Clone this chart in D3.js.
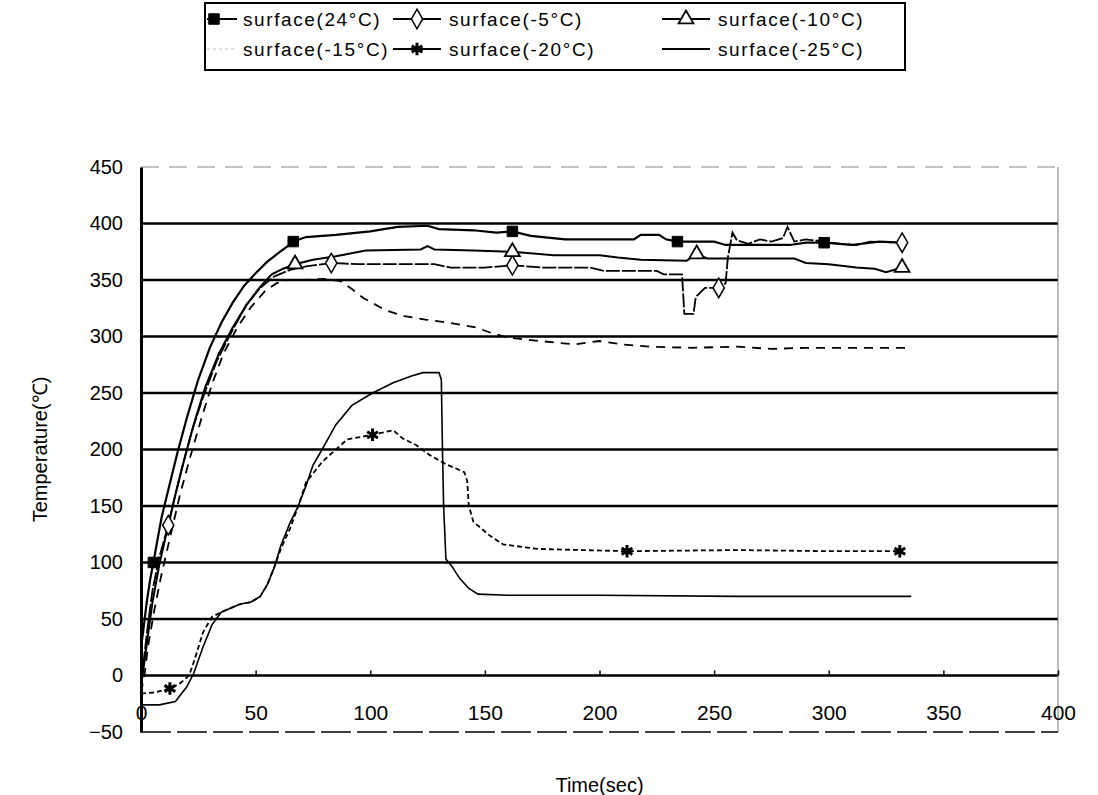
<!DOCTYPE html>
<html>
<head>
<meta charset="utf-8">
<script src="https://cdn.jsdelivr.net/npm/d3@7"></script>
<style>
  body { margin: 0; background: #fff; }
  svg { display: block; font-family: "Liberation Sans", Arial, sans-serif; }
</style>
</head>
<body>
<div class="chart"></div>
<script>
// tick values
const xTicks = [0, 50, 100, 150, 200, 250, 300, 350, 400];
const yTicks = [-50, 0, 50, 100, 150, 200, 250, 300, 350, 400, 450];

// series: [time(sec), temperature]
const surface24 = [[0,24],[1,40],[2.5,65],[4,85],[5.4,100],[7,118],[9,140],[12,165],[16,198],[20,228],[25,262],[30,290],[35,312],[40,330],[45,345],[50,356],[55,366],[60,374],[64,380],[66.4,384],[72,388],[85,390],[100,393],[112,397],[125,398],[130,395],[145,394],[155,392],[162,393],[170,389],[185,386],[215,386],[218,390],[226,390],[229,386],[234,384],[250,384],[255,381],[283,381],[290,383],[298,383],[310,381],[322,384],[332,383]];
const surfaceM5 = [[0,-5],[1,10],[3,45],[5,75],[8,105],[11.9,133],[14,152],[18,185],[22,215],[27,246],[33,278],[40,306],[46,328],[52,343],[58,353],[65,359],[72,362],[83,365],[95,364],[128,364],[135,361],[150,361],[162,363],[175,361],[196,361],[202,358],[225,358],[228,355],[236,355],[237,320],[241,320],[242,335],[246,343],[252,343],[255,347],[256,370],[258,392],[260,385],[265,382],[270,386],[275,384],[280,387],[282,397],[285,384],[290,386],[298,384],[305,382],[312,381],[318,384],[332,383]];
const surfaceM10 = [[0,-10],[1,5],[3,35],[5,65],[8,98],[11,125],[15,160],[19,192],[23,222],[28,255],[34,285],[40,308],[46,328],[52,344],[57,355],[62,360],[67.2,364],[75,368],[85,371],[98,376],[122,377],[125,380],[128,377],[145,376],[162,375],[180,372],[200,372],[208,370],[218,368],[238,367],[242.4,373],[247,369],[285,369],[290,365],[300,364],[312,361],[320,360],[325,357],[332,361]];
const surfaceM15 = [[0,-15],[1.5,0],[3,25],[6,60],[9,90],[13,125],[17,160],[21,190],[26,225],[31,258],[36,285],[42,308],[48,326],[54,340],[59,347],[64,350],[71,350],[80,351],[87,349],[92,342],[97,334],[107,323],[115,318],[124,315],[135,312],[146,308],[153,303],[160,299],[174,296],[189,293],[200,296],[210,293],[222,291],[240,290],[260,291],[275,289],[290,290],[335,290]];
const surfaceM20 = [[0,-16],[6,-15],[12.6,-11.5],[17,-7],[21,0],[24,18],[27,38],[31,52],[36,57],[43,63],[48,65],[52,70],[55,80],[58,95],[61,112],[65,130],[68.6,150],[72,171],[79,189],[85,200],[90,209],[101,213],[110,217],[114,210],[120,204],[126,195],[133,187],[141,180],[142.3,172],[143,150],[145,136],[152,124],[158,116],[173,112],[212,110],[260,111],[300,110],[331,110]];
const surfaceM25 = [[0,-26],[8,-26],[15,-23],[20,-10],[23,2],[27,25],[31,45],[35,56],[43,63],[48,65],[52,70],[55,80],[58,95],[61,115],[65,135],[68.6,150],[72,168],[75,186],[79,200],[85,222],[92,239],[101,250],[110,259],[118,265],[123,268],[130,268],[131,262],[131.5,200],[132,150],[133,103],[135.5,97],[139,86],[143,77],[147,72],[160,71],[200,71],[260,70],[336,70]];

// marker points
const marks24 = [[5.4,100],[66.4,384],[162,393],[234,384],[298,383]];
const marksM5 = [[11.9,133],[83,365],[162,363],[252,343],[332,383]];
const marksM10 = [[67.2,364],[162,375],[242.4,373],[332,361]];
const marksM20 = [[12.6,-11.5],[101,213],[212,110],[331,110]];

const legendLabels = ["surface(24°C)", "surface(-5°C)", "surface(-10°C)", "surface(-15°C)", "surface(-20°C)", "surface(-25°C)"];

const totalWidth = 1098, totalHeight = 795;
const plot = { left: 141, right: 1058, top: 167, bottom: 732 };

const svg = d3.select(".chart").append("svg")
  .attr("width", totalWidth)
  .attr("height", totalHeight);

const xScale = d3.scaleLinear().domain([0, 400]).range([plot.left, plot.right]);
const yScale = d3.scaleLinear().domain([-50, 450]).range([plot.bottom, plot.top]);

// gridlines
svg.append("g")
  .selectAll("line")
  .data(yTicks.filter((v) => v >= 0 && v <= 400))
  .enter()
  .append("line")
  .attr("x1", xScale(0)).attr("x2", xScale(400))
  .attr("y1", (d) => yScale(d)).attr("y2", (d) => yScale(d))
  .attr("stroke", "black").attr("stroke-width", 2.5);

// frame
svg.append("line")
  .attr("x1", xScale(0)).attr("x2", xScale(400))
  .attr("y1", yScale(450)).attr("y2", yScale(450))
  .attr("stroke", "#888").attr("stroke-width", 1).attr("stroke-dasharray", "18,10");
svg.append("line")
  .attr("x1", xScale(400)).attr("x2", xScale(400))
  .attr("y1", yScale(450)).attr("y2", yScale(-50))
  .attr("stroke", "#777").attr("stroke-width", 1);
svg.append("line")
  .attr("x1", xScale(0)).attr("x2", xScale(400))
  .attr("y1", yScale(-50)).attr("y2", yScale(-50))
  .attr("stroke", "black").attr("stroke-width", 1.5).attr("stroke-dasharray", "30,6");

// x axis: small ticks on the zero line, labels below
const xTickGroup = svg.append("g")
  .attr("transform", `translate(0, ${yScale(0)})`)
  .call(d3.axisTop(xScale).tickValues(xTicks).tickSize(5).tickFormat(""));
xTickGroup.select(".domain").remove();
xTickGroup.selectAll(".tick line").attr("stroke", "black").attr("stroke-width", 1.5);

const xLabelGroup = svg.append("g")
  .attr("transform", `translate(0, ${yScale(0)})`)
  .call(d3.axisBottom(xScale).tickValues(xTicks).tickSize(0).tickPadding(30));
xLabelGroup.select(".domain").remove();
xLabelGroup.selectAll("text")
  .attr("font-size", 21)
  .attr("font-family", "Liberation Sans, Arial, sans-serif")
  .attr("fill", "black");

// y axis
const yAxisGroup = svg.append("g")
  .attr("transform", `translate(${xScale(0)}, 0)`)
  .call(d3.axisLeft(yScale).tickValues(yTicks).tickSize(0).tickPadding(18));
yAxisGroup.select(".domain").attr("stroke", "black").attr("stroke-width", 3);
yAxisGroup.selectAll("text")
  .attr("font-size", 20)
  .attr("font-family", "Liberation Sans, Arial, sans-serif")
  .attr("fill", "black");

// axis titles
svg.append("text")
  .attr("x", (plot.left + plot.right) / 2)
  .attr("y", 792)
  .attr("text-anchor", "middle")
  .attr("font-size", 20)
  .text("Time(sec)");

svg.append("text")
  .attr("transform", `translate(47, ${(plot.top + plot.bottom) / 2}) rotate(-90)`)
  .attr("text-anchor", "middle")
  .attr("font-size", 20)
  .text("Temperature(℃)");

// lines
const line = d3.line()
  .x((d) => xScale(d[0]))
  .y((d) => yScale(d[1]));

const series = [
  { data: surfaceM25, width: 1.6, dash: null },
  { data: surfaceM20, width: 1.8, dash: "5,3" },
  { data: surfaceM15, width: 1.8, dash: "9,7" },
  { data: surfaceM10, width: 2, dash: null },
  { data: surfaceM5, width: 1.8, dash: "14,2" },
  { data: surface24, width: 2.2, dash: null },
];

svg.append("g")
  .selectAll("path")
  .data(series)
  .enter()
  .append("path")
  .attr("d", (d) => line(d.data))
  .attr("fill", "none")
  .attr("stroke", "black")
  .attr("stroke-width", (d) => d.width)
  .attr("stroke-dasharray", (d) => d.dash);

// markers
const square = d3.symbol().type(d3.symbolSquare).size(110);
const diamond = d3.symbol().type(d3.symbolDiamond).size(110);
const triangle = d3.symbol().type(d3.symbolTriangle).size(95);
const star = d3.symbol().type(d3.symbolAsterisk).size(110);

function drawMarks(group, data, gen, fill, sw) {
  group.append("g")
    .selectAll("path")
    .data(data)
    .enter()
    .append("path")
    .attr("transform", (d) => `translate(${xScale(d[0])}, ${yScale(d[1])})`)
    .attr("d", gen)
    .attr("fill", fill)
    .attr("stroke", "black")
    .attr("stroke-width", sw);
}
drawMarks(svg, marks24, square, "black", 1);
drawMarks(svg, marksM5, diamond, "white", 1.5);
drawMarks(svg, marksM10, triangle, "white", 1.8);
drawMarks(svg, marksM20, star, "none", 3);

// legend
const legend = svg.append("g");
legend.append("rect")
  .attr("x", 205).attr("y", 3)
  .attr("width", 700).attr("height", 67)
  .attr("fill", "white")
  .attr("stroke", "black")
  .attr("stroke-width", 2);

const legendItems = [
  { sym: square, fill: "black", sw: 1 },
  { sym: diamond, fill: "white", sw: 1.5 },
  { sym: triangle, fill: "white", sw: 1.8 },
  { sym: null, lineColor: "#ddd", dash: "3,3" },
  { sym: star, fill: "none", sw: 3 },
  { sym: null },
];
// [line start, line end, text x] per column
const colX = [[207, 237, 243], [393, 441, 449], [662, 710, 718]];
const rowY = [19, 49];

legendItems.forEach((item, i) => {
  const col = colX[i % 3], yy = rowY[Math.floor(i / 3)];
  legend.append("line")
    .attr("x1", col[0]).attr("x2", col[1])
    .attr("y1", yy).attr("y2", yy)
    .attr("stroke", item.lineColor || "black")
    .attr("stroke-width", 2)
    .attr("stroke-dasharray", item.dash || null);
  if (item.sym) {
    legend.append("path")
      .attr("transform", `translate(${i % 3 === 0 ? col[0] + 7 : (col[0] + col[1]) / 2}, ${yy})`)
      .attr("d", item.sym)
      .attr("fill", item.fill)
      .attr("stroke", "black")
      .attr("stroke-width", item.sw);
  }
  legend.append("text")
    .attr("x", col[2])
    .attr("y", yy + 7)
    .attr("font-size", 19)
    .attr("letter-spacing", 1.6)
    .text(legendLabels[i]);
});
</script>
</body>
</html>
